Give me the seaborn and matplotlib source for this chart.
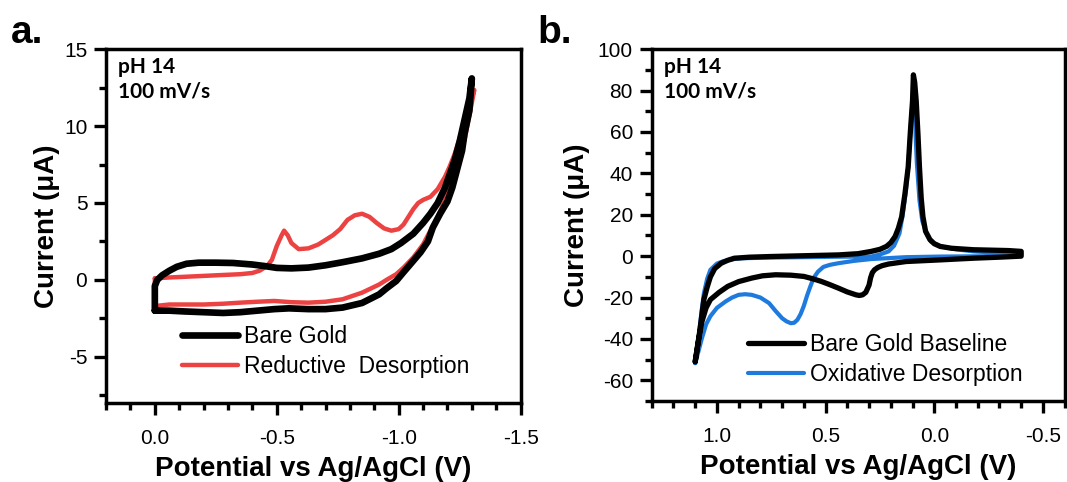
import matplotlib
matplotlib.use("Agg")
import matplotlib.pyplot as plt
from matplotlib.ticker import MultipleLocator
import seaborn as sns

# ---------------- data ----------------
# Panel a: Bare Gold (loop: upper branch then lower branch)
a_gold_E = [0.0, 0.0, 0.0, -0.01, -0.03, -0.06, -0.09, -0.13, -0.18, -0.25, -0.32, -0.40, -0.45,
            -0.50, -0.56, -0.63, -0.70, -0.77, -0.85, -0.92, -0.97, -1.01, -1.06, -1.10, -1.13,
            -1.16, -1.19, -1.21, -1.23, -1.25, -1.27, -1.29, -1.30,
            -1.29, -1.27, -1.26, -1.24, -1.22, -1.20, -1.17, -1.14, -1.12, -1.09, -1.06, -1.02,
            -0.99, -0.95, -0.92, -0.85, -0.77, -0.70, -0.63, -0.55, -0.49, -0.42, -0.35, -0.28,
            -0.20, -0.12, -0.06, -0.02, 0.0]
a_gold_I = [-2.0, -1.4, -0.4, 0.0, 0.3, 0.6, 0.85, 1.05, 1.12, 1.12, 1.1, 1.0, 0.9,
            0.78, 0.75, 0.8, 0.95, 1.15, 1.4, 1.7, 2.0, 2.4, 3.0, 3.7, 4.3,
            5.0, 6.0, 6.9, 7.8, 9.0, 10.4, 11.8, 13.1,
            11.0, 9.5, 8.4, 7.2, 6.0, 5.1, 4.3, 3.4, 2.5, 1.8, 1.24, 0.5,
            -0.07, -0.55, -0.94, -1.5, -1.8, -1.9, -1.9, -1.85, -1.9, -2.0, -2.1, -2.15,
            -2.1, -2.05, -2.0, -2.0, -2.0]

# Panel a: Reductive Desorption
a_red_E = [0.0, -0.05, -0.12, -0.20, -0.28, -0.35, -0.40, -0.43, -0.46, -0.48, -0.50, -0.52,
           -0.53, -0.545, -0.56, -0.59, -0.63, -0.67, -0.70, -0.73, -0.76, -0.79, -0.82, -0.85,
           -0.88, -0.91, -0.94, -0.97, -1.00, -1.02, -1.04, -1.06, -1.08, -1.10, -1.13, -1.16,
           -1.19, -1.21, -1.23, -1.25, -1.27, -1.29, -1.31,
           -1.29, -1.27, -1.25, -1.23, -1.21, -1.19, -1.16, -1.13, -1.10, -1.06, -1.02, -0.99,
           -0.95, -0.92, -0.85, -0.77, -0.70, -0.63, -0.56, -0.49, -0.42, -0.35, -0.28, -0.20,
           -0.12, -0.06, 0.0, 0.0]
a_red_I = [0.1, 0.15, 0.2, 0.26, 0.32, 0.37, 0.45, 0.6, 0.9, 1.3, 2.2, 2.9,
           3.2, 2.9, 2.4, 2.0, 2.05, 2.3, 2.6, 2.9, 3.3, 3.9, 4.2, 4.3,
           4.1, 3.7, 3.35, 3.2, 3.3, 3.6, 4.1, 4.6, 5.0, 5.2, 5.4, 5.9,
           6.7, 7.4, 8.2, 9.2, 10.3, 11.3, 12.35,
           10.7, 9.1, 7.9, 6.9, 6.0, 5.2, 4.1, 3.2, 2.3, 1.46, 0.8, 0.37,
           0.0, -0.3, -0.83, -1.26, -1.42, -1.48, -1.45, -1.37, -1.42, -1.48, -1.55, -1.6,
           -1.6, -1.6, -1.7, 0.1]

# Panel b: Bare Gold Baseline
b_gold_E = [1.10, 1.09, 1.08, 1.07, 1.06, 1.045, 1.03, 1.01, 0.98, 0.95, 0.92, 0.85, 0.76,
            0.60, 0.44, 0.35, 0.29, 0.25, 0.22, 0.20, 0.18, 0.165, 0.15, 0.135, 0.12, 0.11,
            0.10, 0.096, 0.09, 0.083, 0.075, 0.068, 0.06, 0.052, 0.04, 0.02, 0.0, -0.027,
            -0.08, -0.18, -0.26, -0.34, -0.40,
            -0.40, -0.30, -0.18, -0.03, 0.13, 0.21, 0.24, 0.26, 0.275, 0.285, 0.293, 0.30,
            0.315, 0.33, 0.345, 0.36, 0.40, 0.44, 0.48, 0.52, 0.56, 0.60, 0.66, 0.73, 0.79,
            0.84, 0.90, 0.95, 0.99, 1.03, 1.05, 1.07, 1.085, 1.10]
b_gold_I = [-51, -44, -37, -29, -21, -15, -10, -6, -3.4, -2, -1, -0.5, -0.2,
            0.2, 0.6, 1.2, 2.3, 3.3, 4.7, 6.5, 9.5, 13.5, 19, 30, 43, 60,
            75, 87.6, 84, 75, 59, 43, 28, 19, 12, 8, 6, 4.7,
            3.8, 3.1, 2.9, 2.7, 2.3,
            0.0, -0.5, -1.0, -1.8, -2.6, -3.8, -4.6, -5.5, -6.6, -8.0, -10.5, -14.0,
            -17.5, -18.7, -19, -18.7, -17.3, -15.5, -13.8, -12.2, -10.9, -9.8, -9.2, -9.0, -9.5,
            -10.6, -12.3, -14.6, -17.5, -21, -25, -32, -41, -51]

# Panel b: Oxidative Desorption
b_blue_E = [1.10, 1.09, 1.08, 1.07, 1.06, 1.045, 1.03, 1.00, 0.97, 0.92, 0.88, 0.75, 0.60,
            0.45, 0.29, 0.25, 0.21, 0.185, 0.16, 0.145, 0.13, 0.12, 0.11, 0.10, 0.095, 0.09,
            0.086, 0.08, 0.068, 0.055, 0.036, 0.015, -0.03, -0.10, -0.18, -0.30, -0.40,
            -0.30, -0.03, 0.13, 0.29, 0.37, 0.44, 0.48, 0.51, 0.535, 0.555, 0.57, 0.585,
            0.60, 0.615, 0.63, 0.645, 0.66, 0.68, 0.70, 0.73, 0.76, 0.80, 0.84, 0.87, 0.90,
            0.93, 0.96, 1.00, 1.03, 1.05, 1.07, 1.085, 1.10]
b_blue_I = [-51.7, -44, -35.6, -26, -18, -11, -6.6, -3.6, -2.4, -1.4, -1.0, -0.7, -0.5,
            -0.3, -0.2, 0.8, 2.3, 5, 11, 20, 32, 43, 60, 75, 83, 78,
            59, 45, 27, 17, 11, 7, 4.7, 3.3, 2.3, 1.6, 1.1,
            0.0, -0.2, -0.5, -1.4, -2.3, -3.4, -4.2, -5.2, -7.5, -10.5, -14.6, -19,
            -24, -28, -30.8, -32.2, -32.4, -31.5, -30, -26.5, -22.7, -20, -18.7, -18.4, -18.7,
            -20, -21.9, -25, -29, -33, -40, -46, -51.7]

labels_a = ["Bare Gold", "Reductive  Desorption"]
labels_b = ["Bare Gold Baseline", "Oxidative Desorption"]
x_label = "Potential vs Ag/AgCl (V)"
y_label = "Current (\u03bcA)"
note = "pH 14\n100 mV/s"

# ---------------- style ----------------
sns.set_theme(style="ticks")
plt.rcParams["font.family"] = ["Liberation Sans", "DejaVu Sans"]
plt.rcParams["axes.unicode_minus"] = False
plt.rcParams["text.color"] = "black"
plt.rcParams["axes.labelcolor"] = "black"
plt.rcParams["xtick.color"] = "black"
plt.rcParams["ytick.color"] = "black"

BLACK = "#000000"
RED = "#EC4242"
BLUE = "#1F7ADE"

fig = plt.figure(figsize=(10.67, 4.82), dpi=100)
axa = fig.add_axes([0.0994, 0.164, 0.3885, 0.734])
axb = fig.add_axes([0.6108, 0.168, 0.387, 0.730])


def style_axis(ax, xlim, ylim, xmaj, xmin, ymaj, ymin, ylabelpad):
    ax.set_xlim(*xlim)
    ax.set_ylim(*ylim)
    ax.xaxis.set_major_locator(MultipleLocator(xmaj))
    ax.xaxis.set_minor_locator(MultipleLocator(xmin))
    ax.yaxis.set_major_locator(MultipleLocator(ymaj))
    ax.yaxis.set_minor_locator(MultipleLocator(ymin))
    for s in ax.spines.values():
        s.set_visible(True)
        s.set_linewidth(2.5)
        s.set_color("black")
    ax.tick_params(which="both", direction="out", width=2.4, color="black",
                   top=False, right=False, labelsize=15, labelcolor="black")
    ax.tick_params(which="major", length=8.5)
    ax.tick_params(which="minor", length=5)
    ax.tick_params(axis="y", which="major", pad=5)
    ax.tick_params(axis="x", which="major", pad=10)
    ax.set_xlabel(x_label, fontsize=20, fontweight="bold", labelpad=6)
    ax.set_ylabel(y_label, fontsize=20, fontweight="bold", labelpad=ylabelpad)
    ax.text(0.029, 0.978, note, transform=ax.transAxes, ha="left", va="top",
            fontsize=15, fontweight="bold", family=["Lato", "DejaVu Sans"], linespacing=1.3)


# Panel a
sns.lineplot(x=a_red_E, y=a_red_I, sort=False, estimator=None, color=RED, lw=3.2, ax=axa)
sns.lineplot(x=a_gold_E, y=a_gold_I, sort=False, estimator=None, color=BLACK, lw=4.8, ax=axa)
style_axis(axa, (0.2, -1.5), (-8, 15), 0.5, 0.1, 5, 2.5, 3)
ha = axa.get_lines()
axa.legend([ha[1], ha[0]], labels_a, loc="center left", bbox_to_anchor=(0.183, 0.145),
           frameon=False, fontsize=16.5, handlelength=2.45, handletextpad=0.25,
           labelspacing=0.3, borderpad=0, borderaxespad=0)

# Panel b
sns.lineplot(x=b_blue_E, y=b_blue_I, sort=False, estimator=None, color=BLUE, lw=3.0, ax=axb)
sns.lineplot(x=b_gold_E, y=b_gold_I, sort=False, estimator=None, color=BLACK, lw=3.8, ax=axb)
style_axis(axb, (1.3, -0.6), (-70, 100), 0.5, 0.1, 20, 10, 6)
hb = axb.get_lines()
axb.legend([hb[1], hb[0]], labels_b, loc="center left", bbox_to_anchor=(0.234, 0.117),
           frameon=False, fontsize=16.5, handlelength=2.45, handletextpad=0.25,
           labelspacing=0.3, borderpad=0, borderaxespad=0)

fig.text(0.010, 0.910, "a.", fontsize=28, fontweight="bold", ha="left", va="baseline")
fig.text(0.504, 0.910, "b.", fontsize=28, fontweight="bold", ha="left", va="baseline")

fig.savefig("out.png", dpi=100, facecolor="white")
